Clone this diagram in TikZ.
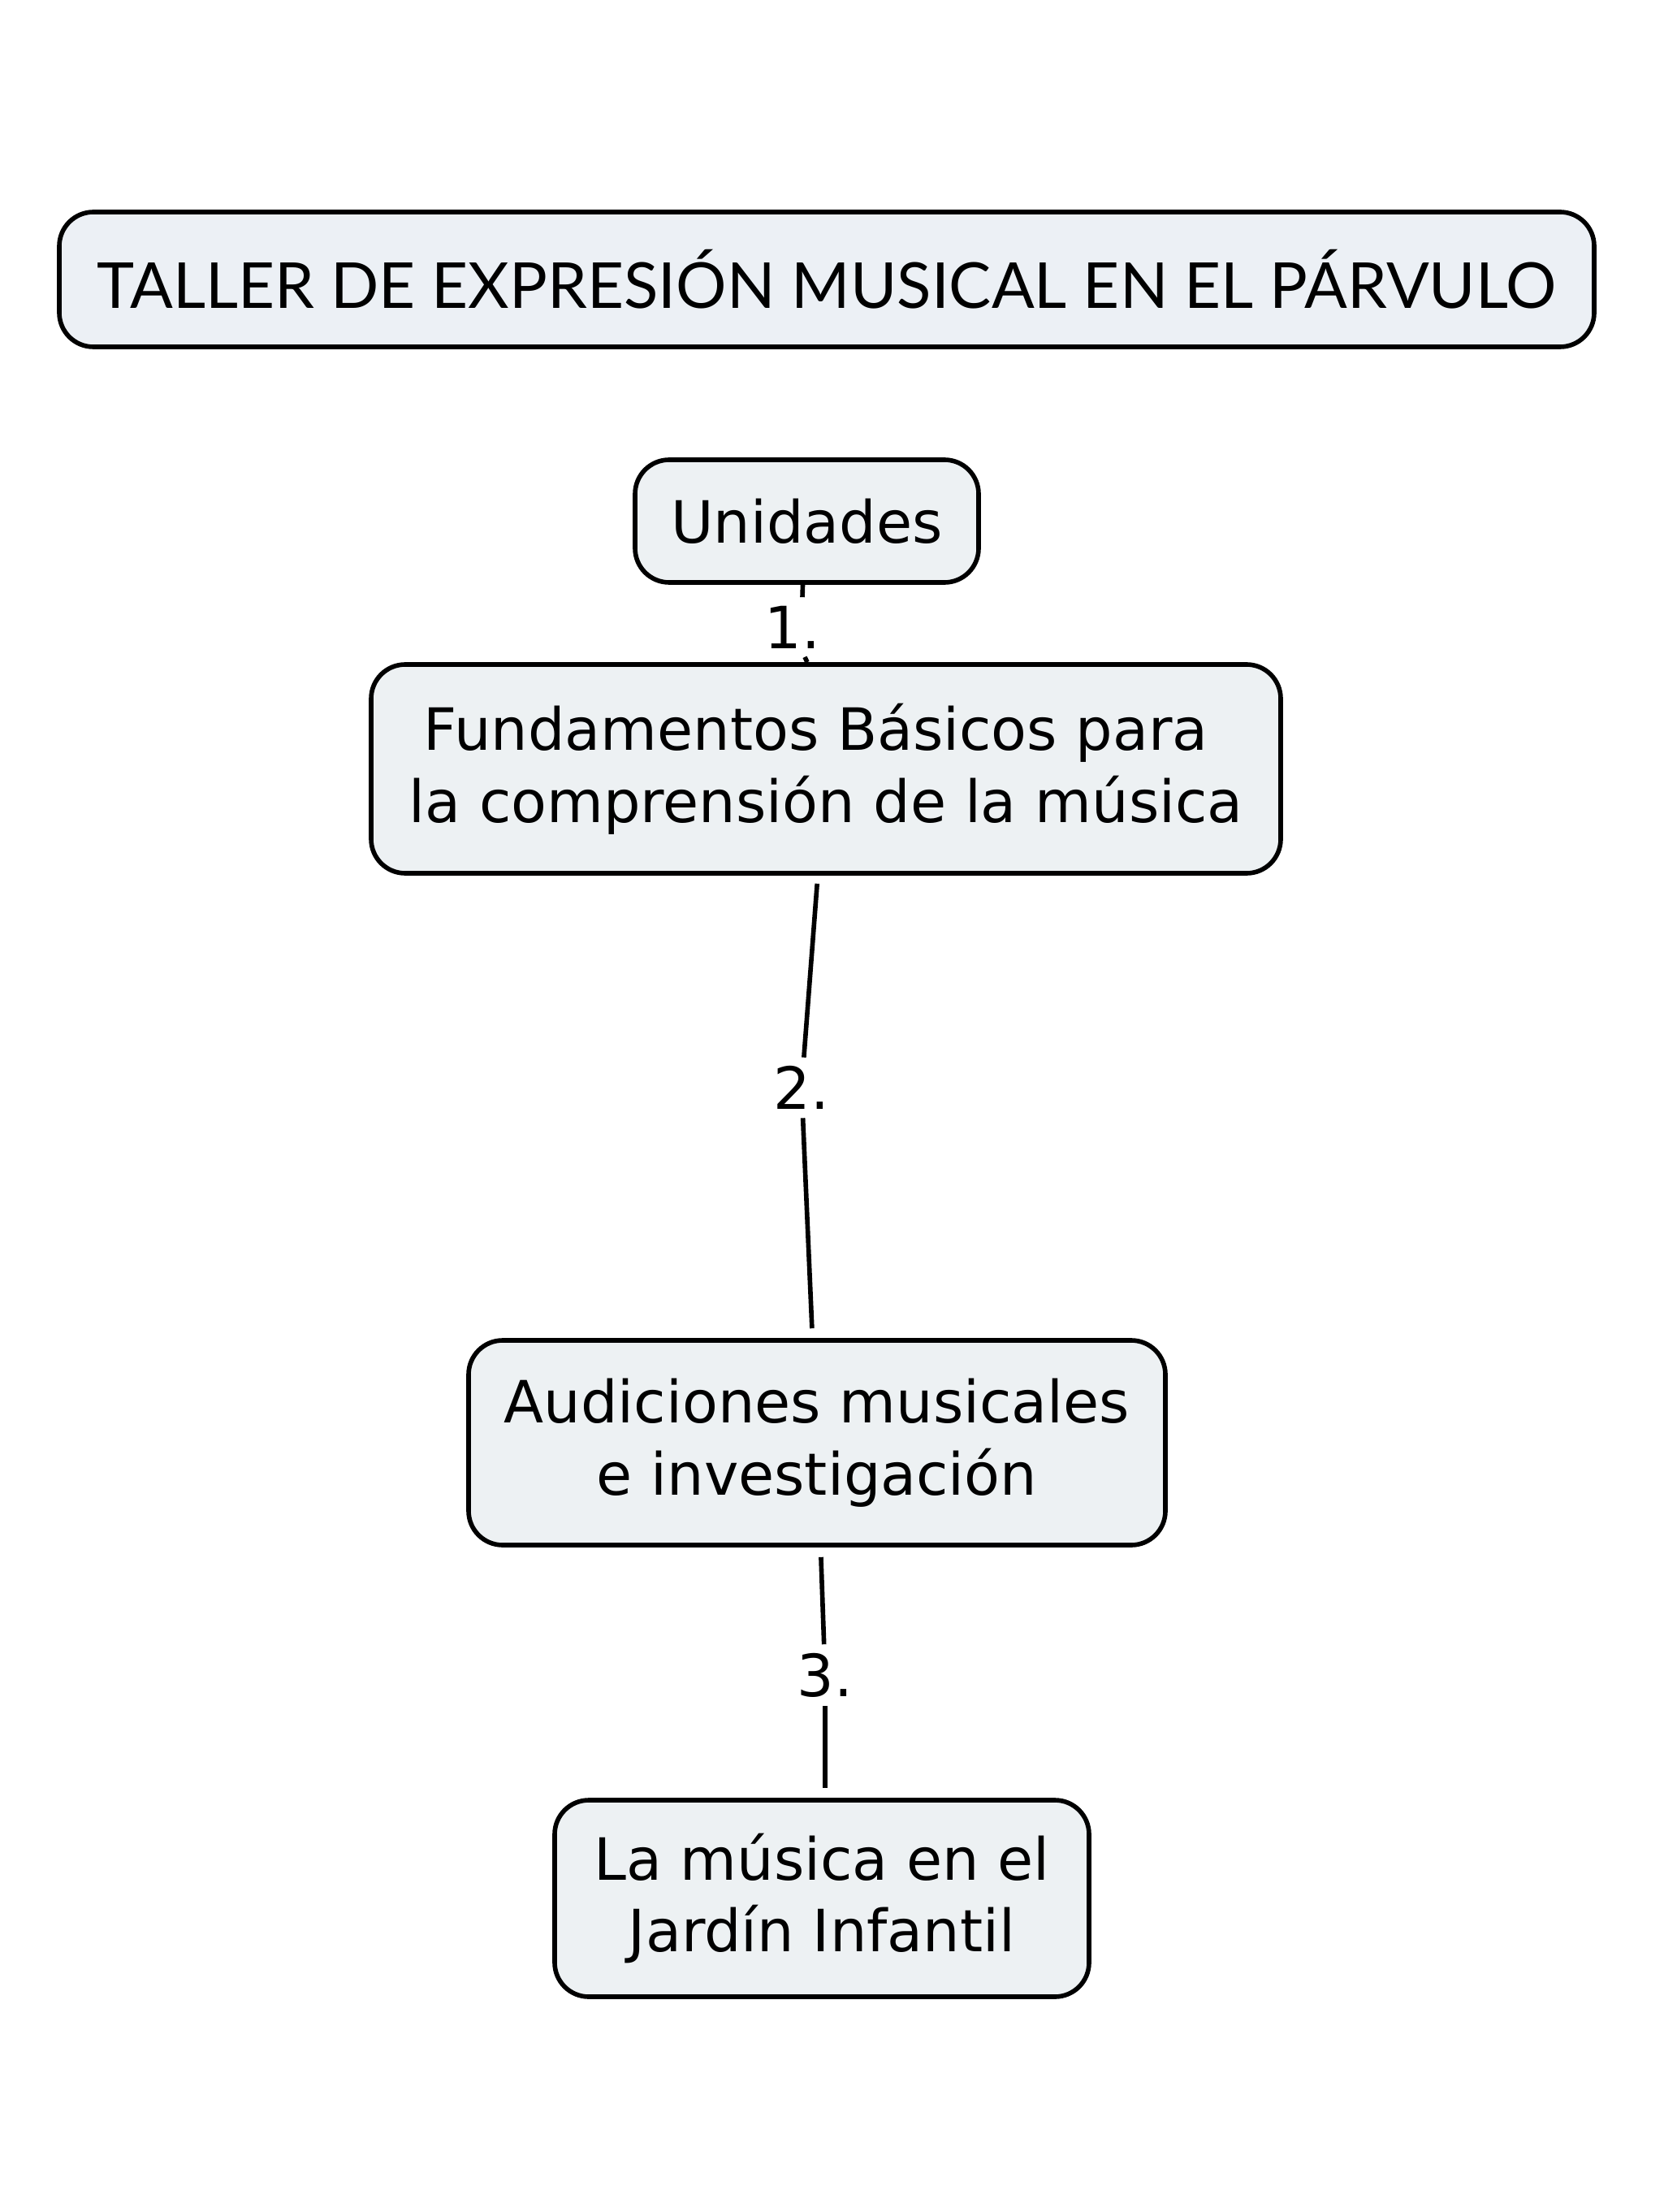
\documentclass[tikz,border=0pt]{standalone}
\usepackage{fontspec}
\setmainfont{DejaVu Sans}
\newfontfamily\titlefont{Lato}
\usetikzlibrary{positioning}
\definecolor{cmapfill}{RGB}{237,241,243}
\definecolor{cmaptitle}{RGB}{236,240,245}
\tikzset{
  concept/.style={draw, line width=1.6pt, rounded corners=0.42cm, fill=cmapfill,
    align=center, font=\fontsize{20.4}{25.3}\selectfont, inner sep=0pt},
  linkword/.style={font=\fontsize{20.4}{24}\selectfont, inner sep=0.1cm},
  link/.style={line width=1.6pt},
}

\begin{document}
\begin{tikzpicture}
  \useasboundingbox (0,0) rectangle (20.48,-27.23);
  \node[concept, fill=cmaptitle, font=\titlefont\fontsize{22.2}{26}\selectfont,
    minimum width=18.9cm, minimum height=1.66cm] (title) at (10.18,-3.44)
    {TALLER DE EXPRESIÓN MUSICAL EN EL PÁRVULO};
  \node[concept, minimum width=4.23cm, minimum height=1.51cm] (unid) at (9.935,-6.415) {Unidades};
  \node[concept, minimum width=11.2cm, minimum height=2.57cm] (fund) at (10.17,-9.465)
    {Fundamentos Básicos para\hspace*{0.34em}\\la comprensión de la música};
  \node[concept, minimum width=8.58cm, minimum height=2.52cm] (aud) at (10.06,-17.76)
    {Audiciones musicales\\e investigación};
  \node[concept, minimum width=6.58cm, minimum height=2.42cm] (jard) at (10.12,-23.37)
    {La música en el\\Jardín Infantil};
  % palabras de enlace
  \node[linkword] (l1) at (9.76,-7.72) {1.};
  \node[linkword] (l2) at (9.87,-13.39) {2.};
  \node[linkword] (l3) at (10.16,-20.62) {3.};
  \draw[link] ([xshift=-0.05cm]unid.south) -- ([xshift=0.12cm]l1.north);
  \draw[link] ([xshift=0.15cm]l1.south) -- ([xshift=-0.23cm]fund.north);
  \draw[link, shorten <=0.1cm] (fund) -- (l2);
  \draw[link, shorten >=0.12cm] (l2) -- (aud);
  \draw[link, shorten <=0.12cm] (aud) -- (l3);
  \draw[link, shorten >=0.12cm] (l3.south) -- (l3.south |- jard.north);
\end{tikzpicture}
\end{document}
